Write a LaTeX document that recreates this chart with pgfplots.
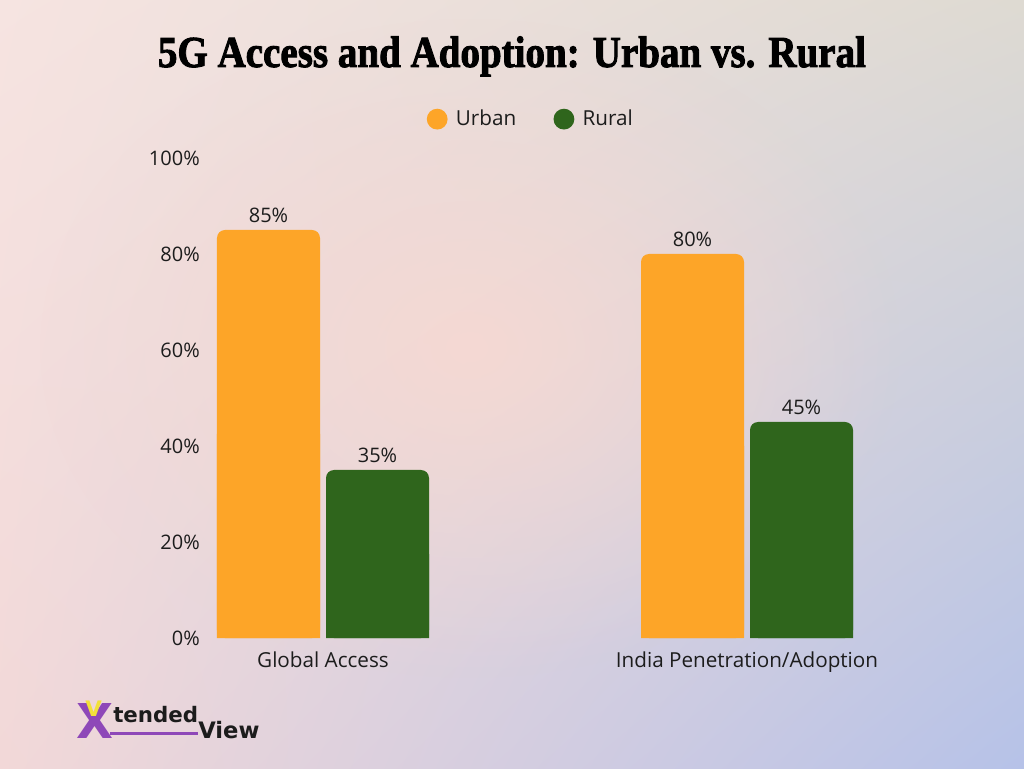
\documentclass[border=0pt]{standalone}
\usepackage{pgfplots}
\usepackage{pgfplotstable}
\pgfplotsset{compat=1.18}
\usepackage{fontspec}
\setmainfont{Open Sans}
\newfontfamily\titlefont[BoldFeatures={FakeBold=2.2}]{Liberation Serif}
\newfontfamily\logofont{DejaVu Sans}
\usetikzlibrary{fadings,shadings}
\tikzfading[name=myfade, inner color=transparent!0, outer color=transparent!100]
\definecolor{urban}{HTML}{FDA528}
\definecolor{rural}{HTML}{2F651C}
\definecolor{txt}{HTML}{1C1C1C}
\definecolor{bgUL}{HTML}{F6E4E1}
\definecolor{bgUR}{HTML}{DEDAD2}
\definecolor{bgLL}{HTML}{F2D8D8}
\definecolor{bgLR}{HTML}{B6C2E8}
\definecolor{peach}{HTML}{F7D9D2}
\definecolor{logopurple}{HTML}{8E48B8}
\definecolor{logoyellow}{HTML}{F2E13A}

% data: category index, value
\pgfplotstableread{
x v
0 85
1 80
}\urbandata
\pgfplotstableread{
x v
0 35
1 45
}\ruraldata

\begin{document}
\begin{tikzpicture}
\begin{scope}[x=0.75pt,y=0.75pt]
% background (pixel coords, y up: Y = 768 - py)
\shade[upper left=bgUL, upper right=bgUR, lower left=bgLL, lower right=bgLR] (0,0) rectangle (1024,768);
\fill[peach, path fading=myfade, opacity=0.9] (470,420) ellipse (430 and 330);
\useasboundingbox (0,0) rectangle (1024,768);

% title
\node[anchor=base, text=black, inner sep=0pt] at (512,701)
  {\resizebox{531pt}{23pt}{\titlefont\bfseries 5G Access and Adoption: Urban vs. Rural}};

% logo
\node[anchor=base west, inner sep=0pt, text=logopurple] at (76,30)
  {\logofont\bfseries\fontsize{36pt}{36pt}\selectfont X};
\node[anchor=base west, inner sep=0pt, text=logoyellow] at (85,52)
  {\logofont\bfseries\fontsize{16pt}{16pt}\selectfont V};
\node[anchor=base west, inner sep=0pt, text=txt] at (113,46)
  {\logofont\bfseries\fontsize{16pt}{16pt}\selectfont tended};
\fill[logopurple] (110,33) rectangle (198,36.5);
\node[anchor=base west, inner sep=0pt, text=txt] at (198,30)
  {\logofont\bfseries\fontsize{17pt}{17pt}\selectfont View};
\end{scope}

\begin{axis}[
  at={(157.5pt,97.5pt)}, anchor=south west,
  scale only axis, width=487.5pt, height=360pt,
  xmin=-0.2665, xmax=1.2665,
  ymin=0, ymax=100,
  axis x line*=bottom, axis y line*=left,
  axis line style={draw=none},
  clip=true,
  ybar, bar width=77.25pt,
  xtick={0,1}, xticklabels={Global Access, India Penetration/Adoption},
  ytick={0,20,40,60,80,100},
  yticklabels={0\%,20\%,40\%,60\%,80\%,100\%},
  tick style={draw=none},
  major tick length=0pt,
  /pgf/number format/assume math mode=true,
  xticklabel style={font=\fontsize{15.5pt}{17pt}\selectfont, text=txt, inner sep=0pt, anchor=north, yshift=-10pt},
  yticklabel style={font=\fontsize{15pt}{17pt}\selectfont, text=txt, inner sep=0pt, anchor=east, xshift=-7.5pt},
  point meta=explicit,
  legend style={at={(0.492,1.081)}, anchor=center, draw=none, fill=none,
    legend columns=2, font=\fontsize{15.5pt}{17pt}\selectfont, text=txt,
    /tikz/every even column/.append style={column sep=28pt},
    nodes={inner sep=0pt}},
  legend cell align=left,
]
% main bars with rounded corners and value labels
\addplot[fill=urban, draw=none, rounded corners=6pt, bar shift=-40.875pt,
  nodes near coords={\pgfmathprintnumber{\pgfplotspointmeta}\%},
  nodes near coords style={font=\fontsize{15pt}{17pt}\selectfont, text=txt, inner sep=0pt, anchor=south, yshift=5.5pt},
  legend image code/.code={\fill[urban] (0pt,0pt) circle (7.8pt); \path (14pt,0pt);}]
  table[x=x, y=v, meta=v] {\urbandata};
\addlegendentry{Urban}
\addplot[fill=rural, draw=none, rounded corners=6pt, bar shift=40.875pt,
  nodes near coords={\pgfmathprintnumber{\pgfplotspointmeta}\%},
  nodes near coords style={font=\fontsize{15pt}{17pt}\selectfont, text=txt, inner sep=0pt, anchor=south, yshift=5.5pt},
  legend image code/.code={\fill[rural] (0pt,0pt) circle (7.8pt); \path (14pt,0pt);}]
  table[x=x, y=v, meta=v] {\ruraldata};
\addlegendentry{Rural}
% square-cornered lower halves so that the bars have square bottoms
\addplot[fill=urban, draw=none, bar shift=-40.875pt, forget plot]
  table[x=x, y expr=\thisrow{v}/2] {\urbandata};
\addplot[fill=rural, draw=none, bar shift=40.875pt, forget plot]
  table[x=x, y expr=\thisrow{v}/2] {\ruraldata};
\end{axis}
\end{tikzpicture}
\end{document}
